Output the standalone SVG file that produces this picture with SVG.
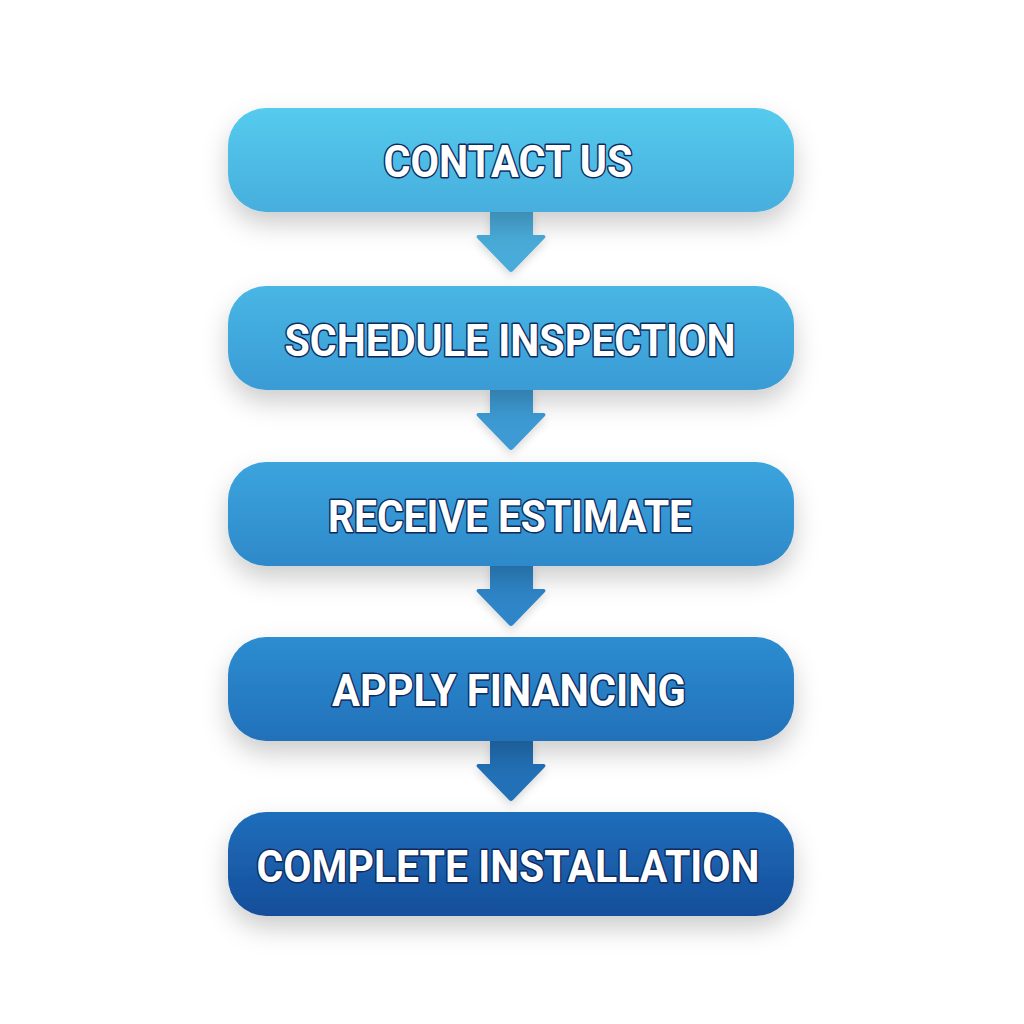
<svg xmlns="http://www.w3.org/2000/svg" width="1024" height="1024" viewBox="0 0 1024 1024">
  <defs>
    <linearGradient id="g1" x1="0" y1="0" x2="0" y2="1"><stop offset="0" stop-color="#55CBEE"/><stop offset="1" stop-color="#47AEDD"/></linearGradient>
    <linearGradient id="g2" x1="0" y1="0" x2="0" y2="1"><stop offset="0" stop-color="#48B6E4"/><stop offset="1" stop-color="#3A9BD5"/></linearGradient>
    <linearGradient id="g3" x1="0" y1="0" x2="0" y2="1"><stop offset="0" stop-color="#3BA4DD"/><stop offset="1" stop-color="#2E89CA"/></linearGradient>
    <linearGradient id="g4" x1="0" y1="0" x2="0" y2="1"><stop offset="0" stop-color="#2D8DD1"/><stop offset="1" stop-color="#2271B9"/></linearGradient>
    <linearGradient id="g5" x1="0" y1="0" x2="0" y2="1"><stop offset="0" stop-color="#1E6EBB"/><stop offset="1" stop-color="#164E9A"/></linearGradient>
    <filter id="sh" x="-20%" y="-40%" width="140%" height="200%">
      <feDropShadow dx="0" dy="12" stdDeviation="13" flood-color="#000" flood-opacity="0.2"/>
    </filter>
    <filter id="ash" x="-40%" y="-40%" width="180%" height="180%">
      <feDropShadow dx="0" dy="4" stdDeviation="4" flood-color="#000" flood-opacity="0.15"/>
    </filter>
    <path id="arrow" d="M490 0 H533 V25 H544 Q547 26 544 29 L513 61 Q511 63 509 61 L478 29 Q475 26 478 25 H490 Z"/>
  </defs>
  <style>
    .box { filter: url(#sh); }
    .lbl { font-family: Roboto, "Liberation Sans", sans-serif; font-weight: 700; font-size: 44px; fill: #FFFFFF; stroke: #0F2B5E; stroke-width: 3px; stroke-linejoin: round; paint-order: stroke; text-anchor: middle; }
  </style>
  <rect width="1024" height="1024" fill="#FFFFFF"/>
  <g id="connectors" filter="url(#ash)">
    <use href="#arrow" y="210" fill="#4AABD9"/>
    <use href="#arrow" y="388" fill="#3C9AD3"/>
    <use href="#arrow" y="564" fill="#2F85C7"/>
    <use href="#arrow" y="739" fill="#2470B6"/>
  </g>
  <g id="node1">
    <rect class="box" x="228" y="108" width="566" height="104" rx="38" fill="url(#g1)"/>
    <text class="lbl" x="508" y="177" textLength="249" lengthAdjust="spacingAndGlyphs">CONTACT US</text>
  </g>
  <g id="node2">
    <rect class="box" x="228" y="286" width="566" height="104" rx="38" fill="url(#g2)"/>
    <text class="lbl" x="510" y="356" textLength="451" lengthAdjust="spacingAndGlyphs">SCHEDULE INSPECTION</text>
  </g>
  <g id="node3">
    <rect class="box" x="228" y="462" width="566" height="104" rx="38" fill="url(#g3)"/>
    <text class="lbl" x="510" y="532" textLength="364" lengthAdjust="spacingAndGlyphs">RECEIVE ESTIMATE</text>
  </g>
  <g id="node4">
    <rect class="box" x="228" y="637" width="566" height="104" rx="38" fill="url(#g4)"/>
    <text class="lbl" x="509" y="706" textLength="354" lengthAdjust="spacingAndGlyphs">APPLY FINANCING</text>
  </g>
  <g id="node5">
    <rect class="box" x="228" y="812" width="566" height="104" rx="38" fill="url(#g5)"/>
    <text class="lbl" x="508" y="882" textLength="503" lengthAdjust="spacingAndGlyphs">COMPLETE INSTALLATION</text>
  </g>
</svg>
